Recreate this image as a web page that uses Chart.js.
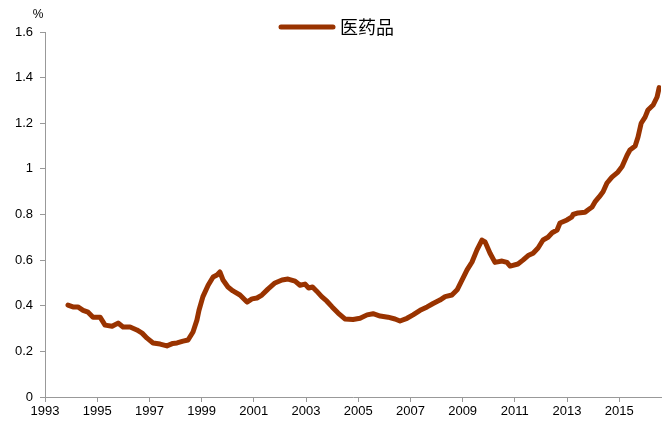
<!DOCTYPE html>
<html>
<head>
<meta charset="utf-8">
<script src="https://cdn.jsdelivr.net/npm/chart.js@4/dist/chart.umd.min.js"></script>
<style>
html,body{margin:0;padding:0;background:#fff;}
canvas{display:block;}
</style>
</head>
<body>
<canvas id="c" width="663" height="423"></canvas>
<script>
const seriesName = "医药品";
const years = [1993.88,1994.07,1994.26,1994.46,1994.65,1994.84,1995.11,1995.30,1995.57,1995.80,1995.99,1996.26,1996.52,1996.72,1996.91,1997.14,1997.41,1997.67,1997.90,1998.06,1998.29,1998.48,1998.67,1998.82,1998.90,1999.05,1999.25,1999.44,1999.59,1999.70,1999.82,2000.01,2000.20,2000.47,2000.74,2000.93,2001.12,2001.31,2001.54,2001.81,2002.08,2002.31,2002.58,2002.77,2002.96,2003.10,2003.25,2003.40,2003.60,2003.80,2004.00,2004.23,2004.49,2004.80,2005.07,2005.34,2005.57,2005.84,2006.14,2006.41,2006.60,2006.87,2007.10,2007.37,2007.64,2007.87,2008.13,2008.33,2008.59,2008.79,2008.98,2009.17,2009.36,2009.55,2009.74,2009.86,2010.05,2010.24,2010.51,2010.70,2010.82,2011.12,2011.31,2011.51,2011.70,2011.89,2012.08,2012.27,2012.43,2012.62,2012.73,2013.00,2013.19,2013.23,2013.42,2013.69,2013.80,2013.96,2014.07,2014.23,2014.38,2014.53,2014.72,2014.95,2015.11,2015.30,2015.41,2015.61,2015.72,2015.84,2015.99,2016.10,2016.30,2016.45,2016.53];
const values = [0.403,0.395,0.395,0.38,0.372,0.35,0.35,0.315,0.31,0.324,0.307,0.307,0.294,0.28,0.258,0.237,0.232,0.224,0.235,0.237,0.245,0.25,0.285,0.337,0.38,0.44,0.49,0.526,0.535,0.548,0.513,0.482,0.465,0.447,0.416,0.43,0.434,0.447,0.473,0.50,0.513,0.517,0.508,0.49,0.495,0.478,0.482,0.465,0.44,0.42,0.395,0.368,0.342,0.340,0.345,0.36,0.365,0.355,0.35,0.342,0.333,0.345,0.36,0.38,0.395,0.41,0.425,0.44,0.447,0.47,0.513,0.557,0.592,0.645,0.688,0.68,0.63,0.59,0.596,0.59,0.574,0.583,0.60,0.62,0.63,0.653,0.688,0.70,0.72,0.732,0.763,0.776,0.79,0.80,0.807,0.81,0.82,0.833,0.855,0.877,0.90,0.938,0.964,0.986,1.01,1.06,1.083,1.10,1.14,1.20,1.227,1.258,1.28,1.315,1.356];
const xTicks = [1993,1995,1997,1999,2001,2003,2005,2007,2009,2011,2013,2015];
const yTicks = [0,0.2,0.4,0.6,0.8,1,1.2,1.4,1.6];

const lineColor = '#993300';
const axisColor = '#999999';
const tickFont = {family:'"Liberation Sans", Arial, sans-serif', size:13};

const overlay = {
  id:'overlay',
  afterDraw(chart){
    const ctx = chart.ctx;
    ctx.save();
    // unit label
    ctx.fillStyle = '#000';
    ctx.font = '12px "Liberation Sans", Arial, sans-serif';
    ctx.textAlign = 'center';
    ctx.textBaseline = 'middle';
    ctx.fillText('%', 38, 15);
    // legend
    ctx.strokeStyle = lineColor;
    ctx.lineWidth = 5;
    ctx.lineCap = 'round';
    ctx.beginPath();
    ctx.moveTo(281, 27);
    ctx.lineTo(333, 27);
    ctx.stroke();
    ctx.fillStyle = '#000';
    ctx.font = '18px "Noto Sans CJK SC", sans-serif';
    ctx.textAlign = 'left';
    ctx.fillText(seriesName, 340, 27);
    ctx.restore();
  }
};

new Chart(document.getElementById('c'), {
  type:'line',
  data:{
    datasets:[{
      label: seriesName,
      data: years.map((y,i)=>({x:y, y:values[i]})),
      borderColor: lineColor,
      backgroundColor: lineColor,
      borderWidth: 5,
      pointRadius: 0,
      tension: 0,
      borderCapStyle:'round',
      borderJoinStyle:'round',
      fill:false
    }]
  },
  options:{
    responsive:false,
    animation:false,
    devicePixelRatio:1,
    layout:{padding:{top:32,right:2,left:0,bottom:0}},
    plugins:{legend:{display:false}, tooltip:{enabled:false}},
    scales:{
      x:{
        type:'linear',
        min:1993, max:2016.6,
        afterBuildTicks(s){ s.ticks = xTicks.map(v=>({value:v})); },
        afterFit(s){ s.height = 26; },
        ticks:{color:'#000', font:tickFont, padding:2, maxRotation:0, autoSkip:false,
               callback:(v)=>String(v)},
        grid:{display:true, drawOnChartArea:false, color:axisColor, tickLength:5},
        border:{color:axisColor, width:1}
      },
      y:{
        min:0, max:1.6,
        afterBuildTicks(s){ s.ticks = yTicks.map(v=>({value:v})); },
        afterFit(s){ s.width = 45; },
        ticks:{color:'#000', font:tickFont, padding:7,
               callback:(v)=>String(Math.round(v*10)/10)},
        grid:{display:true, drawOnChartArea:false, color:axisColor, tickLength:5},
        border:{color:axisColor, width:1}
      }
    }
  },
  plugins:[overlay]
});
</script>
</body>
</html>
